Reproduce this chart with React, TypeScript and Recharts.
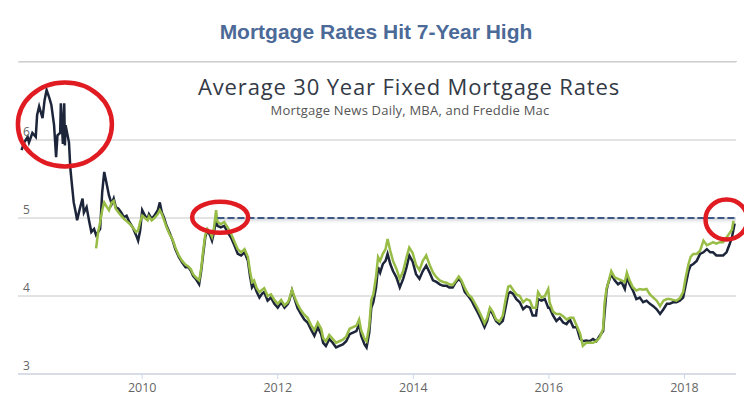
import React from 'react';
import { LineChart, Line, XAxis, YAxis, CartesianGrid, ReferenceLine, ReferenceArea, ReferenceDot } from 'recharts';

// dates as fractional years, one row per calendar year
const dates = [
  2008.22, 2008.26, 2008.31, 2008.33, 2008.38, 2008.43, 2008.45, 2008.48, 2008.53, 2008.56, 2008.59, 2008.63, 2008.66,
  2008.70, 2008.73, 2008.75, 2008.79, 2008.80, 2008.83, 2008.85, 2008.86, 2008.87, 2008.92, 2008.94, 2008.96, 2008.99,
  2009.02, 2009.04, 2009.08, 2009.12, 2009.14, 2009.18, 2009.22, 2009.25, 2009.29, 2009.32, 2009.35, 2009.38, 2009.41, 2009.44,
  2009.48, 2009.51, 2009.55, 2009.58, 2009.61, 2009.65, 2009.69, 2009.73, 2009.77, 2009.81, 2009.86, 2009.91, 2009.94, 2009.97,
  2010.00, 2010.04, 2010.08, 2010.10, 2010.14, 2010.18, 2010.23, 2010.26, 2010.29, 2010.32, 2010.36, 2010.40, 2010.45,
  2010.49, 2010.54, 2010.59, 2010.64, 2010.68, 2010.72, 2010.75, 2010.79, 2010.84, 2010.87, 2010.90, 2010.93, 2010.96,
  2011.00, 2011.03, 2011.06, 2011.09, 2011.11, 2011.16, 2011.21, 2011.26, 2011.31, 2011.36, 2011.41, 2011.46,
  2011.51, 2011.56, 2011.59, 2011.62, 2011.65, 2011.69, 2011.73, 2011.77, 2011.80, 2011.85, 2011.90, 2011.95,
  2012.00, 2012.05, 2012.10, 2012.15, 2012.17, 2012.21, 2012.25, 2012.29, 2012.34, 2012.39, 2012.44,
  2012.49, 2012.54, 2012.59, 2012.64, 2012.67, 2012.71, 2012.76, 2012.81, 2012.86, 2012.91, 2012.96,
  2013.01, 2013.06, 2013.11, 2013.16, 2013.20, 2013.23, 2013.28, 2013.31, 2013.35, 2013.38, 2013.41, 2013.45, 2013.48,
  2013.51, 2013.55, 2013.59, 2013.62, 2013.66, 2013.70, 2013.75, 2013.80, 2013.85, 2013.90, 2013.94, 2013.99,
  2014.04, 2014.09, 2014.14, 2014.19, 2014.24, 2014.29, 2014.34, 2014.39, 2014.44, 2014.49,
  2014.53, 2014.58, 2014.63, 2014.67, 2014.71, 2014.76, 2014.81, 2014.86, 2014.90, 2014.95,
  2015.00, 2015.05, 2015.09, 2015.13, 2015.17, 2015.22, 2015.27, 2015.32, 2015.36, 2015.40, 2015.43, 2015.47,
  2015.52, 2015.57, 2015.62, 2015.67, 2015.72, 2015.76, 2015.81, 2015.84, 2015.89, 2015.94, 2015.99,
  2016.01, 2016.06, 2016.11, 2016.16, 2016.21, 2016.26, 2016.31, 2016.36, 2016.41, 2016.46, 2016.50,
  2016.55, 2016.60, 2016.65, 2016.70, 2016.75, 2016.80, 2016.82, 2016.85, 2016.87, 2016.92, 2016.97,
  2017.02, 2017.07, 2017.12, 2017.15, 2017.19, 2017.24, 2017.29, 2017.34, 2017.39, 2017.44, 2017.49,
  2017.54, 2017.59, 2017.64, 2017.69, 2017.74, 2017.78, 2017.83, 2017.88, 2017.93, 2017.98,
  2018.02, 2018.06, 2018.09, 2018.13, 2018.18, 2018.23, 2018.28, 2018.33, 2018.38,
  2018.42, 2018.47, 2018.52, 2018.57, 2018.62, 2018.66, 2018.70, 2018.72, 2018.74,
];

// Mortgage News Daily (dark line)
const mndRates = [
  5.87, 5.97, 6.04, 5.97, 6.09, 6.04, 6.32, 6.43, 6.28, 6.51, 6.64, 6.54, 6.45,
  6.19, 5.78, 6.06, 6.09, 6.47, 5.95, 6.47, 5.93, 6.19, 5.97, 5.64, 5.46, 5.20,
  5.07, 4.97, 5.12, 5.25, 5.07, 5.14, 4.95, 4.82, 4.86, 4.78, 4.82, 4.86, 5.33, 5.59,
  5.42, 5.29, 5.18, 5.25, 5.14, 5.12, 5.07, 5.01, 5.03, 4.95, 4.88, 4.78, 4.71, 4.84,
  5.10, 5.03, 4.99, 5.05, 4.99, 5.03, 5.10, 5.20, 5.07, 5.01, 4.90, 4.82, 4.71,
  4.60, 4.50, 4.43, 4.37, 4.37, 4.32, 4.26, 4.22, 4.15, 4.32, 4.54, 4.75, 4.84,
  4.78, 4.71, 4.82, 4.99, 4.90, 4.88, 4.90, 4.82, 4.75, 4.65, 4.54, 4.52,
  4.56, 4.45, 4.26, 4.11, 4.15, 4.05, 3.98, 4.03, 4.05, 3.94, 3.98, 3.90,
  3.85, 3.92, 3.85, 3.90, 3.94, 4.07, 3.96, 3.85, 3.77, 3.70, 3.66,
  3.57, 3.49, 3.60, 3.51, 3.40, 3.36, 3.45, 3.40, 3.34, 3.36, 3.38,
  3.42, 3.51, 3.53, 3.55, 3.64, 3.49, 3.38, 3.34, 3.53, 3.85, 3.92, 4.11, 4.37,
  4.30, 4.41, 4.45, 4.54, 4.41, 4.32, 4.24, 4.11, 4.22, 4.37, 4.52, 4.44,
  4.28, 4.22, 4.32, 4.39, 4.30, 4.20, 4.18, 4.15, 4.13, 4.13,
  4.11, 4.11, 4.18, 4.22, 4.18, 4.05, 4.00, 3.94, 3.87, 3.79,
  3.70, 3.60, 3.68, 3.83, 3.77, 3.68, 3.64, 3.68, 3.85, 4.03, 4.05, 4.03,
  3.96, 3.92, 3.83, 3.87, 3.85, 3.75, 3.75, 3.96, 3.94, 3.96, 3.85,
  3.85, 3.75, 3.68, 3.72, 3.66, 3.64, 3.70, 3.60, 3.60, 3.45, 3.42,
  3.43, 3.42, 3.45, 3.42, 3.49, 3.55, 3.77, 4.07, 4.15, 4.28, 4.20,
  4.15, 4.18, 4.09, 4.24, 4.15, 4.07, 3.96, 3.98, 3.92, 3.94, 3.90,
  3.87, 3.83, 3.77, 3.83, 3.90, 3.90, 3.92, 3.92, 3.94, 3.98,
  4.15, 4.32, 4.39, 4.41, 4.45, 4.54, 4.56, 4.60, 4.56,
  4.56, 4.52, 4.52, 4.52, 4.56, 4.65, 4.75, 4.84, 4.93,
];

// Freddie Mac / MBA (green line), starts in spring 2009
const fmRates = [
  null, null, null, null, null, null, null, null, null, null, null, null, null,
  null, null, null, null, null, null, null, null, null, null, null, null, null,
  null, null, null, null, null, null, null, null, null, 4.61, 4.82, 4.95, 5.10, 5.20,
  5.14, 5.10, 5.20, 5.22, 5.12, 5.07, 5.03, 4.99, 4.96, 4.93, 4.88, 4.82, 4.84, 4.95,
  5.03, 5.00, 4.97, 5.02, 4.97, 5.00, 5.05, 5.10, 5.05, 4.98, 4.88, 4.80, 4.72,
  4.62, 4.52, 4.45, 4.40, 4.38, 4.34, 4.28, 4.24, 4.20, 4.35, 4.58, 4.78, 4.86,
  4.82, 4.76, 4.88, 5.10, 4.95, 4.92, 4.95, 4.88, 4.80, 4.70, 4.60, 4.56,
  4.60, 4.50, 4.32, 4.18, 4.20, 4.10, 4.05, 4.08, 4.10, 4.00, 4.02, 3.95,
  3.90, 3.95, 3.88, 3.92, 3.96, 4.08, 3.98, 3.90, 3.82, 3.76, 3.72,
  3.63, 3.56, 3.66, 3.58, 3.46, 3.42, 3.50, 3.45, 3.40, 3.42, 3.44,
  3.48, 3.58, 3.60, 3.62, 3.70, 3.56, 3.45, 3.42, 3.62, 3.95, 4.02, 4.25, 4.50,
  4.45, 4.54, 4.60, 4.73, 4.58, 4.45, 4.35, 4.22, 4.32, 4.50, 4.62, 4.55,
  4.40, 4.33, 4.45, 4.52, 4.40, 4.30, 4.24, 4.20, 4.18, 4.17,
  4.15, 4.14, 4.20, 4.25, 4.20, 4.10, 4.02, 3.98, 3.92, 3.84,
  3.75, 3.65, 3.72, 3.85, 3.80, 3.70, 3.67, 3.75, 3.95, 4.12, 4.13, 4.08,
  4.02, 4.00, 3.92, 3.96, 3.94, 3.85, 3.85, 4.05, 3.98, 4.00, 4.09,
  3.92, 3.80, 3.77, 3.77, 3.74, 3.70, 3.72, 3.72, 3.62, 3.52, 3.36,
  3.40, 3.40, 3.40, 3.42, 3.47, 3.58, 3.90, 4.10, 4.15, 4.32, 4.24,
  4.22, 4.20, 4.18, 4.30, 4.20, 4.11, 4.07, 4.09, 4.08, 4.09, 4.02,
  3.98, 3.94, 3.87, 3.94, 3.96, 3.96, 3.95, 3.94, 3.97, 4.05,
  4.25, 4.41, 4.50, 4.54, 4.54, 4.58, 4.71, 4.65, 4.67,
  4.69, 4.67, 4.69, 4.69, 4.75, 4.80, 4.85, 4.95, 4.95,
];

const yearTicks = [2010, 2012, 2014, 2016, 2018];
const rateTicks = [3, 4, 5, 6];

// the 7-year high level and where it was last seen
const highLevel = 5;
const highStart = 2011.11;

// circled spots: [date, rate, rx, ry]
const circles = [
  [2008.86, 6.2, 47, 42],
  [2011.15, 5.01, 28, 15.5],
  [2018.62, 4.98, 21, 20],
];

const chartData = dates.map((d, i) => ({ date: d, mnd: mndRates[i], fm: fmRates[i] }));

const xDomain = [2008.168, 2018.76];

const renderRateTick = (p: any) => (
  <text key={p.index} x={p.x + 3} y={p.y - 4} textAnchor="start" fill="#666" fontSize={12} fontFamily="'Open Sans', sans-serif">
    {p.payload.value}
  </text>
);

export default function App() {
  return (
    <div style={{ position: 'absolute', left: 0, top: 0, width: 744, height: 415, background: '#fff', overflow: 'hidden' }}>
      <LineChart width={744} height={415} data={chartData} margin={{ top: 62, right: 8, left: 18, bottom: 11 }}>
        <defs>
          <linearGradient id="highShadow" x1="0" y1="0" x2="0" y2="1">
            <stop offset="0%" stopColor="#c8ccd4" stopOpacity={1} />
            <stop offset="100%" stopColor="#ffffff" stopOpacity={0} />
          </linearGradient>
        </defs>
        <CartesianGrid vertical={false} stroke="#c6c6c6" />
        <XAxis
          dataKey="date"
          type="number"
          domain={xDomain}
          allowDataOverflow
          ticks={yearTicks}
          height={30}
          stroke="#ccd6eb"
          tickSize={5}
          tickMargin={4}
          tick={{ fill: '#666', fontSize: 12.5, fontFamily: "'Open Sans', sans-serif" }}
        />
        <YAxis
          type="number"
          domain={[3, 7]}
          ticks={rateTicks}
          width={1}
          mirror
          axisLine={false}
          tickLine={false}
          tickSize={0}
          tick={renderRateTick}
        />
        <ReferenceArea x1={highStart} x2={xDomain[1]} y1={highLevel - 0.09} y2={highLevel} fill="url(#highShadow)" fillOpacity={1} stroke="none" />
        <Line dataKey="mnd" stroke="#1c2539" strokeWidth={2.5} dot={false} isAnimationActive={false} />
        <Line dataKey="fm" stroke="#98bd46" strokeWidth={2.5} dot={false} isAnimationActive={false} />
        <ReferenceLine
          segment={[{ x: highStart, y: highLevel }, { x: xDomain[1], y: highLevel }]}
          stroke="#3e5886"
          strokeWidth={2}
          strokeDasharray="7 3"
        />
        {circles.map(([cx, cy, rx, ry], i) => (
          <ReferenceDot
            key={i}
            x={cx}
            y={cy}
            shape={(p: any) => (
              <ellipse cx={p.cx} cy={p.cy} rx={rx} ry={ry} fill="none" stroke="#e01b22" strokeWidth={4.5} />
            )}
          />
        ))}
      </LineChart>
      <div style={{ position: 'absolute', left: 19, top: 61, width: 718, height: 1, background: '#cfcfcf' }} />
      <div style={{ position: 'absolute', left: 0, top: 20, width: 752, height: 24, lineHeight: '24px', textAlign: 'center', fontFamily: "'Liberation Sans', Arial, sans-serif", fontWeight: 'bold', fontSize: 21, color: '#4c6a98' }}>
        Mortgage Rates Hit 7-Year High
      </div>
      <div style={{ position: 'absolute', left: 0, top: 75, width: 818, height: 22, lineHeight: '22px', textAlign: 'center', fontFamily: "'Open Sans', sans-serif", fontSize: 22, letterSpacing: 0.85, color: '#333a46' }}>
        Average 30 Year Fixed Mortgage Rates
      </div>
      <div style={{ position: 'absolute', left: 0, top: 103, width: 820, height: 15, lineHeight: '15px', textAlign: 'center', fontFamily: "'Open Sans', sans-serif", fontSize: 13, letterSpacing: 0.2, color: '#555' }}>
        Mortgage News Daily, MBA, and Freddie Mac
      </div>
    </div>
  );
}
